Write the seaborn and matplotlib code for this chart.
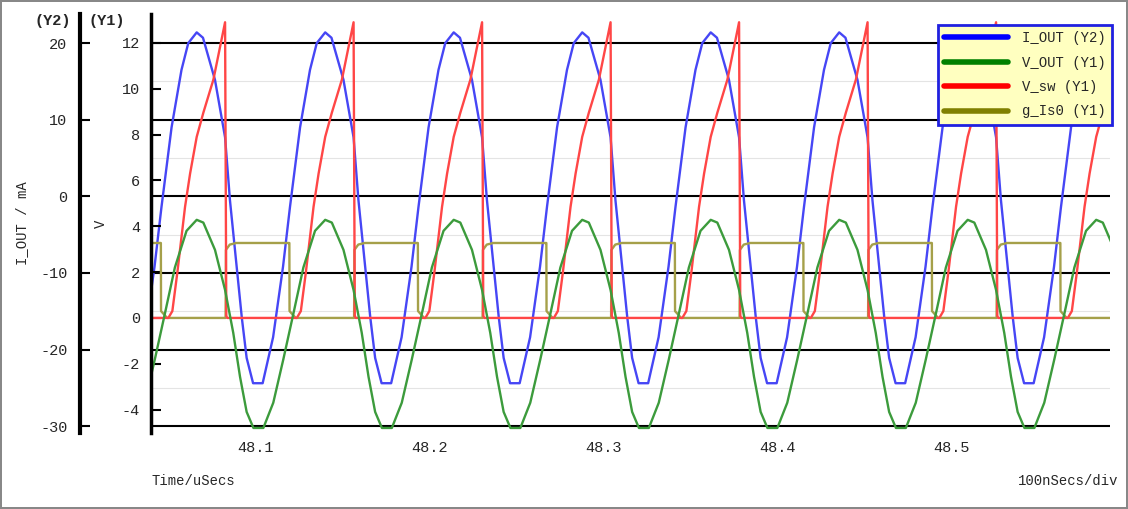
import numpy as np
import pandas as pd
import matplotlib
matplotlib.use("Agg")
import matplotlib.pyplot as plt
import seaborn as sns
from matplotlib.lines import Line2D

# ---- data (one switching cycle, offsets in ns from I_OUT peak) ----
first_peak_us = 48.0665
period_ns = 73.85
n_cycles = range(-1, 8)

i_out_t = [0, 3.6, 10.5, 16.3, 19.1, 23.0, 25.9, 28.7, 32.4, 37.9, 43.9, 49.6, 53.6, 59.4, 65.1, 69.0]
i_out_v = [21.4, 20.7, 15.2, 7.7, -0.5, -9.2, -15.8, -21.1, -24.4, -24.4, -18.4, -9.2, -1.4, 9.0, 16.5, 20.0]

v_out_t = [0, 3.8, 10.5, 16.3, 21.0, 24.9, 28.7, 32.6, 38.3, 44.0, 49.8, 55.6, 61.3, 68.0]
v_out_v = [4.28, 4.16, 2.97, 1.22, -0.65, -2.57, -4.1, -4.8, -4.8, -3.7, -1.8, 0.2, 2.2, 3.8]

v_sw_t = [-16.3, -14.0, -11.1, -6.7, -3.8, 0.0, 3.8, 9.6, 16.3, 17.0, 17.5, 56.0]
v_sw_v = [0.0, 0.3, 2.0, 4.85, 6.3, 7.9, 8.95, 10.4, 12.9, 0.1, 0.0, 0.0]

g_is0_t = [-20.6, -20.5, -17.0, 16.6, 16.8, 19.0, 22.7, 53.2]
g_is0_v = [3.27, 0.3, 0.0, 0.0, 2.97, 3.2, 3.27, 3.27]

x_ticks = [48.1, 48.2, 48.3, 48.4, 48.5]
y1_ticks = [-4, -2, 0, 2, 4, 6, 8, 10, 12]
y2_ticks = [-30, -20, -10, 0, 10, 20]


def build(ts, vs):
    t, v = [], []
    for k in n_cycles:
        base = first_peak_us + k * period_ns / 1000
        t += [base + x / 1000 for x in ts]
        v += list(vs)
    return pd.DataFrame({"t": t, "v": v})


sns.set_theme(style="white")
plt.rcParams["font.family"] = ["Liberation Mono", "DejaVu Sans Mono"]
plt.rcParams["axes.unicode_minus"] = False

fig = plt.figure(figsize=(11.28, 5.09), dpi=100)
fig.patch.set_edgecolor("#888888")
fig.patch.set_linewidth(1.5)
ax = fig.add_axes([151 / 1128, 76 / 509, 959 / 1128, 419 / 509])
ax2 = ax.twinx()
ax.set_zorder(ax2.get_zorder() + 1)
ax.patch.set_visible(False)

xlim = (48.1 - 104 / 1740, 48.1 + 855 / 1740)

c_blue, c_green, c_red, c_olive = "#4646F5", "#3C9B3C", "#FF4646", "#A5A04A"
lw = 1.7
sns.lineplot(data=build(i_out_t, i_out_v), x="t", y="v", ax=ax2, color=c_blue, lw=lw, sort=False, estimator=None)
sns.lineplot(data=build(g_is0_t, g_is0_v), x="t", y="v", ax=ax, color=c_olive, lw=lw, sort=False, estimator=None)
sns.lineplot(data=build(v_sw_t, v_sw_v), x="t", y="v", ax=ax, color=c_red, lw=lw, sort=False, estimator=None)
sns.lineplot(data=build(v_out_t, v_out_v), x="t", y="v", ax=ax, color=c_green, lw=lw, sort=False, estimator=None)

ax2.set_yticks(y2_ticks)
ax2.set_yticks(np.arange(-25, 24, 10), minor=True)
ax2.set_xticks(x_ticks)
ax2.set_xticks(np.arange(48.04, 48.6, 0.02), minor=True)
ax2.grid(which="major", color="black", lw=1.5)
ax2.grid(which="minor", color="#E4E4E4", lw=0.8)
ax2.set_axisbelow(True)

ax2.yaxis.set_ticks_position("left")
ax2.yaxis.set_label_position("left")
ax2.spines["left"].set_position(("outward", 71 * 0.72))
for s in ["top", "right", "bottom"]:
    ax2.spines[s].set_visible(False)
    ax.spines[s].set_visible(False)
ax2.spines["left"].set_visible(True)
ax2.spines["left"].set_color("black")
ax2.spines["left"].set_linewidth(3)
ax.spines["left"].set_color("black")
ax.spines["left"].set_linewidth(2.5)

ax.set_yticks(y1_ticks)
ax.set_xticks(x_ticks)
ax.set_xticklabels([f"{x:.1f}" for x in x_ticks])
ax.tick_params(axis="y", which="both", direction="in", length=7, width=1.5, color="black", labelsize=11, pad=8, left=True)
ax.tick_params(axis="x", length=0, labelsize=11, pad=6)
ax2.tick_params(axis="y", which="major", direction="in", length=7, width=1.5, color="black", labelsize=11, pad=9, left=True, right=False)
ax2.tick_params(axis="y", which="minor", length=0)
ax2.tick_params(axis="x", which="both", length=0, labelbottom=False)

ax.set_xlim(*xlim)
ax.set_ylim(-5.02, 13.26)
ax2.set_ylim(-30.9, 23.8)

ax.set_xlabel("")
ax.set_ylabel("V", fontsize=10, labelpad=10)
ax2.set_ylabel("I_OUT / mA", fontsize=10, labelpad=8)

fig.text(107 / 1128, 1 - 21 / 509, "(Y1)", ha="center", va="center", fontsize=11, weight="bold")
fig.text(53 / 1128, 1 - 21 / 509, "(Y2)", ha="center", va="center", fontsize=11, weight="bold")
fig.text(152 / 1128, 1 - 481 / 509, "Time/uSecs", ha="left", va="center", fontsize=10)
fig.text(1118 / 1128, 1 - 481 / 509, "100nSecs/div", ha="right", va="center", fontsize=10)

handles = [Line2D([], [], color="#0000FF", lw=4), Line2D([], [], color="#008000", lw=4),
           Line2D([], [], color="#FF0000", lw=4), Line2D([], [], color="#808000", lw=4)]
labels = ["I_OUT (Y2)", "V_OUT (Y1)", "V_sw (Y1)", "g_Is0 (Y1)"]
leg = ax.legend(handles, labels, loc="upper right", bbox_to_anchor=(1.002, 0.974), borderaxespad=0,
                fontsize=10, frameon=True, fancybox=False, facecolor="#FFFFC0", framealpha=1,
                edgecolor="#2020E0", handlelength=4.6, handletextpad=1.0, labelspacing=0.75,
                borderpad=0.45)
leg.get_frame().set_linewidth(2)

fig.savefig("out.png", dpi=100, edgecolor=fig.get_edgecolor())
